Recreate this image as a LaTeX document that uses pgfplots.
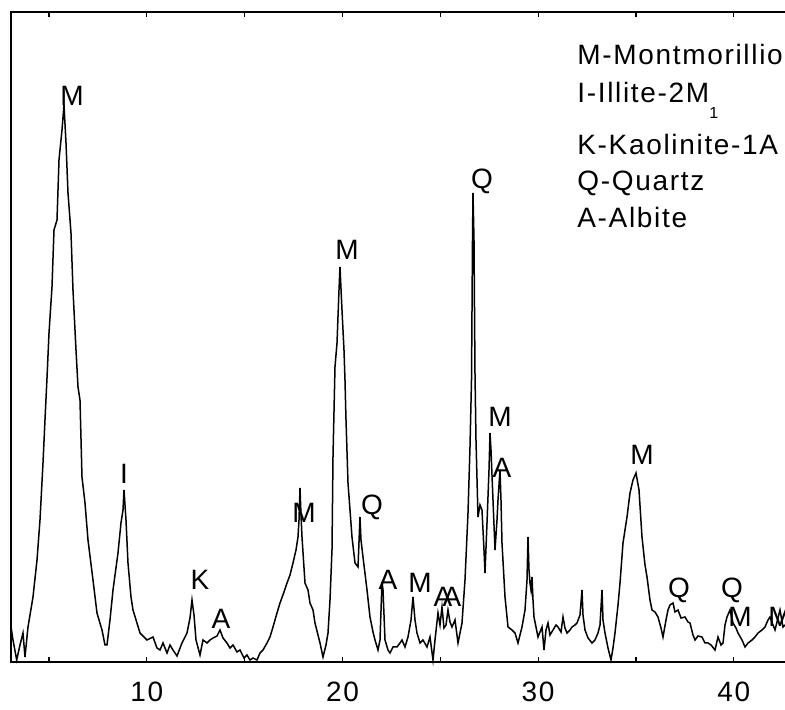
\documentclass[border=0pt]{standalone}
\usepackage{fontspec}
\setmainfont{Liberation Sans}[LetterSpace=6]
\usepackage{pgfplots}
\pgfplotsset{compat=1.18}
\usepackage{pgfplotstable}
\pgfplotstableread{
x y
3.065 35
3.085 32
3.162 22
3.351 2
3.520 17
3.673 29
3.775 5
3.929 35
4.184 65
4.389 102
4.542 142
4.695 199
4.797 242
4.900 284
5.002 329
5.155 375
5.257 432
5.411 442
5.513 502
5.666 532
5.768 557
5.871 519
5.973 469
6.126 429
6.228 372
6.382 312
6.484 275
6.586 262
6.688 185
6.842 159
6.995 122
7.250 82
7.455 49
7.710 32
7.864 17
7.966 17
8.119 42
8.273 72
8.528 109
8.681 139
8.784 152
8.835 172
8.937 142
9.039 99
9.193 65
9.295 52
9.653 29
10.010 22
10.317 25
10.521 14
10.675 12
10.828 19
11.032 9
11.186 17
11.339 12
11.543 6
11.799 19
12.055 29
12.208 44
12.310 62
12.412 47
12.515 22
12.719 7
12.872 22
13.077 19
13.230 22
13.383 24
13.588 26
13.741 32
13.894 24
14.099 19
14.252 14
14.406 17
14.610 10
14.763 12
14.968 4
15.121 7
15.274 2
15.428 4
15.632 2
15.785 9
15.939 12
16.143 19
16.296 25
16.450 35
16.654 49
16.808 59
17.012 70
17.165 79
17.319 87
17.472 99
17.625 112
17.727 125
17.779 142
17.830 174
17.881 147
17.932 125
18.085 79
18.239 72
18.341 59
18.494 52
18.596 39
18.750 27
18.852 19
19.005 5
19.158 17
19.261 29
19.363 62
19.465 112
19.516 205
19.618 295
19.721 319
19.823 372
19.874 395
19.976 352
20.078 312
20.129 282
20.181 242
20.283 179
20.385 152
20.487 125
20.641 99
20.794 95
20.896 145
20.947 122
21.049 105
21.254 72
21.407 45
21.560 30
21.663 22
21.816 12
21.918 22
22.020 80
22.072 72
22.174 22
22.327 12
22.429 9
22.583 15
22.787 15
22.940 19
23.043 22
23.196 15
23.349 25
23.503 42
23.605 65
23.707 42
23.809 29
23.962 19
24.116 22
24.320 15
24.474 25
24.627 2
24.729 22
24.882 49
24.985 37
25.087 55
25.189 34
25.291 37
25.393 52
25.496 40
25.598 35
25.751 42
25.905 19
26.109 39
26.262 82
26.416 149
26.518 215
26.595 282
26.646 422
26.671 469
26.722 422
26.773 289
26.824 222
26.927 145
27.029 157
27.131 152
27.233 112
27.284 89
27.387 139
27.489 192
27.540 229
27.591 212
27.693 162
27.796 112
27.898 142
27.949 162
28.051 192
28.102 162
28.153 119
28.307 65
28.460 35
28.664 32
28.818 29
28.971 19
29.175 35
29.329 52
29.431 82
29.482 125
29.533 92
29.584 79
29.635 72
29.686 85
29.738 62
29.789 45
29.993 25
30.198 35
30.300 12
30.402 32
30.504 39
30.606 27
30.760 32
30.913 37
31.015 35
31.169 30
31.271 45
31.373 34
31.475 29
31.629 32
31.731 35
31.884 37
31.986 39
32.140 47
32.242 72
32.293 47
32.395 32
32.549 24
32.753 19
32.906 22
33.060 29
33.162 37
33.264 72
33.315 42
33.417 29
33.571 14
33.724 2
33.826 14
33.928 29
34.082 57
34.184 79
34.337 119
34.542 145
34.695 169
34.848 182
35.002 189
35.155 172
35.308 125
35.462 97
35.564 85
35.717 62
35.819 52
35.973 50
36.126 45
36.279 34
36.382 25
36.535 42
36.637 52
36.739 57
36.893 59
36.995 50
37.148 52
37.301 44
37.506 45
37.659 40
37.761 39
37.915 27
38.017 22
38.170 26
38.375 25
38.528 19
38.681 19
38.835 17
39.039 12
39.192 25
39.346 17
39.448 19
39.550 37
39.652 45
39.806 52
39.959 39
40.112 34
40.215 29
40.419 22
40.572 15
40.726 19
40.930 22
41.083 25
41.237 29
41.441 32
41.594 35
41.748 42
41.850 45
42.003 37
42.106 32
42.259 44
42.361 52
42.514 35
42.617 37
}\xrd
\begin{document}
\fontsize{14}{17}\selectfont
\begin{tikzpicture}
\begin{axis}[
  width=395.64pt, height=325pt, scale only axis,
  xmin=3.06, xmax=43.5, ymin=0, ymax=650,
  axis line style={line width=0.8pt, black},
  ytick=\empty,
  xtick={5,10,...,40}, xticklabels={,10,,20,,30,,40},
  tick align=inside, major tick length=2.5pt,
  tick style={black, line width=0.6pt},
  xticklabel style={yshift=-5pt},
  /pgf/number format/assume math mode=true,
  clip=false,
]
\addplot[black, line width=0.75pt] table {\xrd};
\begin{scope}[every node/.style={inner sep=0pt}]
\node at (axis cs:6.18,566) {M};
\node at (axis cs:8.84,188) {I};
\node at (axis cs:12.72,82) {K};
\node at (axis cs:13.79,43) {A};
\node at (axis cs:18.03,149) {M};
\node at (axis cs:20.23,412) {M};
\node at (axis cs:21.51,155) {Q};
\node at (axis cs:22.33,82) {A};
\node at (axis cs:23.96,79) {M};
\node at (axis cs:25.14,65) {A};
\node at (axis cs:25.60,65) {A};
\node at (axis cs:27.13,481) {Q};
\node at (axis cs:28.05,245) {M};
\node at (axis cs:28.15,194) {A};
\node at (axis cs:35.31,207) {M};
\node at (axis cs:37.20,72) {Q};
\node at (axis cs:39.91,72) {Q};
\node at (axis cs:40.32,45) {M};
\node at (axis cs:42.36,45) {M};
\node[anchor=base west] at (axis cs:31.986,597) {M-Montmorillionite};
\node[anchor=base west] at (axis cs:31.986,559) {I-Illite-2M\raisebox{-8pt}{\fontsize{8}{8}\selectfont 1}};
\node[anchor=base west] at (axis cs:31.986,507) {K-Kaolinite-1A};
\node[anchor=base west] at (axis cs:31.986,471) {Q-Quartz};
\node[anchor=base west] at (axis cs:31.986,434) {A-Albite};
\end{scope}
\end{axis}
\pgfresetboundingbox
\path ([shift={(-5.5pt,-24pt)}]current axis.south west) rectangle ([shift={(387pt,331pt)}]current axis.south west);
\end{tikzpicture}
\end{document}
